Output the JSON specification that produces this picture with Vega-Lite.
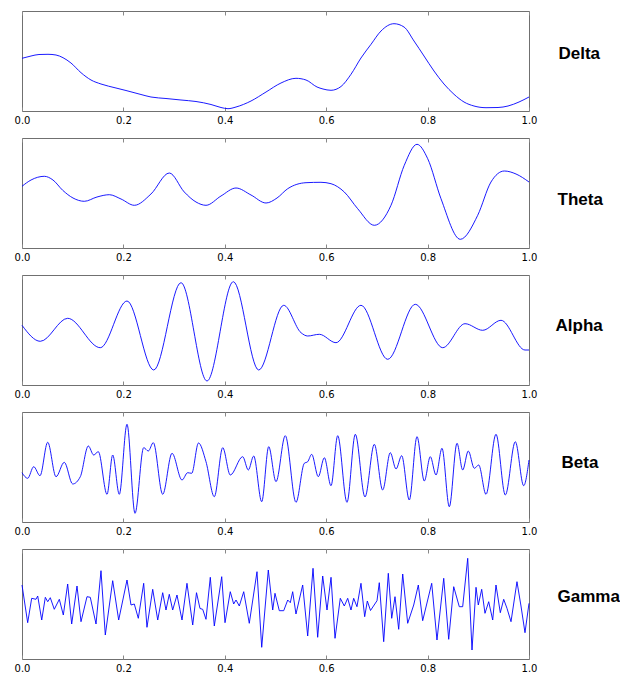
{
  "$schema": "https://vega.github.io/schema/vega-lite/v6.json",
  "padding": {"left": 13, "top": 10, "right": 0, "bottom": 0},
  "background": "white",
  "config": {
    "view": {"stroke": "#707070", "strokeWidth": 1},
    "axis": {"grid": false, "domain": false},
    "concat": {"spacing": 11}
  },
  "datasets": {
    "delta": [
      {"t":0,"v":52.7},{"t":0.0178,"v":55},{"t":0.0335,"v":56.5},{"t":0.0513,"v":56.7},{"t":0.0671,"v":56},{"t":0.0809,"v":53.3},{"t":0.0966,"v":48},{"t":0.1164,"v":38.3},{"t":0.1361,"v":31},{"t":0.1558,"v":27},{"t":0.1854,"v":23},{"t":0.2051,"v":20.5},{"t":0.2347,"v":16.5},{"t":0.2544,"v":14},{"t":0.284,"v":12.5},{"t":0.3136,"v":11},{"t":0.3432,"v":9.5},{"t":0.3728,"v":6.5},{"t":0.3925,"v":3.5},{"t":0.4063,"v":2.3},{"t":0.4221,"v":4},{"t":0.4517,"v":10},{"t":0.4813,"v":19},{"t":0.5108,"v":28},{"t":0.5404,"v":32.7},{"t":0.5602,"v":31},{"t":0.5819,"v":24},{"t":0.5937,"v":22},{"t":0.6095,"v":20.7},{"t":0.6292,"v":24.5},{"t":0.6489,"v":36.7},{"t":0.6686,"v":53},{"t":0.6884,"v":66.7},{"t":0.7081,"v":80},{"t":0.7337,"v":87.3},{"t":0.7535,"v":84},{"t":0.7732,"v":70},{"t":0.7929,"v":55},{"t":0.8126,"v":40},{"t":0.8323,"v":27},{"t":0.8521,"v":16.7},{"t":0.8718,"v":9},{"t":0.8915,"v":5},{"t":0.9152,"v":3.3},{"t":0.9389,"v":3.5},{"t":0.9586,"v":5},{"t":0.9803,"v":9},{"t":1,"v":14}
    ],
    "theta": [
      {"t":0,"v":61.7},{"t":0.0178,"v":68},{"t":0.044,"v":71.7},{"t":0.0611,"v":68},{"t":0.0803,"v":57.7},{"t":0.1006,"v":50},{"t":0.1229,"v":46.7},{"t":0.1479,"v":51},{"t":0.1722,"v":53.3},{"t":0.1953,"v":49},{"t":0.2215,"v":42.7},{"t":0.2544,"v":54},{"t":0.2905,"v":75},{"t":0.3201,"v":56},{"t":0.3432,"v":46},{"t":0.3629,"v":42.7},{"t":0.3925,"v":52},{"t":0.4221,"v":60},{"t":0.4517,"v":53},{"t":0.4813,"v":45},{"t":0.503,"v":50},{"t":0.5241,"v":59.3},{"t":0.5602,"v":65.3},{"t":0.5897,"v":65.7},{"t":0.6095,"v":64.3},{"t":0.6357,"v":56},{"t":0.6621,"v":39.3},{"t":0.6949,"v":22.7},{"t":0.7278,"v":42.7},{"t":0.754,"v":82.7},{"t":0.7791,"v":103.7},{"t":0.8002,"v":89.3},{"t":0.8264,"v":49.3},{"t":0.8645,"v":8.7},{"t":0.8988,"v":32.7},{"t":0.925,"v":66},{"t":0.9513,"v":77},{"t":0.9744,"v":74},{"t":1,"v":66}
    ],
    "alpha": [
      {"t":0,"v":59.7},{"t":0.0361,"v":43.7},{"t":0.0901,"v":66.7},{"t":0.1544,"v":37.3},{"t":0.2071,"v":84},{"t":0.2598,"v":15},{"t":0.3136,"v":102.3},{"t":0.3649,"v":4},{"t":0.4168,"v":103.3},{"t":0.4669,"v":15},{"t":0.5162,"v":79.7},{"t":0.5503,"v":52.3},{"t":0.5635,"v":49},{"t":0.5864,"v":50.7},{"t":0.6193,"v":42.3},{"t":0.6686,"v":79.7},{"t":0.7213,"v":25.7},{"t":0.7757,"v":80.7},{"t":0.8298,"v":37.3},{"t":0.8738,"v":61.3},{"t":0.9087,"v":54.7},{"t":0.9448,"v":64.7},{"t":0.9921,"v":35},{"t":1,"v":35}
    ],
    "beta": [
      {"t":0,"v":49.3},{"t":0.0112,"v":43.7},{"t":0.0231,"v":55.3},{"t":0.0355,"v":46.3},{"t":0.0507,"v":79.7},{"t":0.0671,"v":45.3},{"t":0.0834,"v":59.7},{"t":0.1,"v":38},{"t":0.115,"v":45.3},{"t":0.1308,"v":76},{"t":0.1414,"v":67},{"t":0.1505,"v":70.3},{"t":0.1677,"v":27.7},{"t":0.1789,"v":67},{"t":0.1919,"v":27.7},{"t":0.2071,"v":97.7},{"t":0.2229,"v":8.7},{"t":0.24,"v":74.3},{"t":0.2491,"v":71},{"t":0.259,"v":79.3},{"t":0.2775,"v":27.7},{"t":0.2959,"v":68.7},{"t":0.3156,"v":42},{"t":0.3268,"v":49.3},{"t":0.3347,"v":48.7},{"t":0.3481,"v":79},{"t":0.3629,"v":60.3},{"t":0.3793,"v":25.3},{"t":0.3959,"v":74.3},{"t":0.4108,"v":47},{"t":0.4353,"v":65.3},{"t":0.4464,"v":52},{"t":0.457,"v":66},{"t":0.4728,"v":20.3},{"t":0.4866,"v":75.3},{"t":0.501,"v":40.3},{"t":0.5193,"v":86.3},{"t":0.5404,"v":19.7},{"t":0.5568,"v":58.7},{"t":0.5635,"v":60.3},{"t":0.5714,"v":67.7},{"t":0.5844,"v":45.3},{"t":0.5963,"v":64.3},{"t":0.6095,"v":36.3},{"t":0.6227,"v":86.3},{"t":0.641,"v":19.7},{"t":0.6574,"v":87.7},{"t":0.6765,"v":25},{"t":0.6949,"v":77.7},{"t":0.7114,"v":32},{"t":0.7264,"v":69.3},{"t":0.7377,"v":53},{"t":0.7489,"v":66.3},{"t":0.7639,"v":22},{"t":0.7791,"v":85.3},{"t":0.7935,"v":41},{"t":0.8053,"v":65.3},{"t":0.8166,"v":47},{"t":0.8284,"v":73.7},{"t":0.8428,"v":15.3},{"t":0.858,"v":78.7},{"t":0.8692,"v":52},{"t":0.8803,"v":71},{"t":0.8921,"v":53.7},{"t":0.9008,"v":57},{"t":0.9152,"v":27.7},{"t":0.9349,"v":87.7},{"t":0.9533,"v":27},{"t":0.973,"v":80.3},{"t":0.9895,"v":36.3},{"t":1,"v":62}
    ],
    "gamma": [
      {"t":0,"v":74},{"t":0.0112,"v":36.3},{"t":0.0191,"v":60.7},{"t":0.0276,"v":59.7},{"t":0.031,"v":63},{"t":0.0389,"v":39},{"t":0.046,"v":61.7},{"t":0.0507,"v":57.3},{"t":0.0558,"v":61.3},{"t":0.0637,"v":49.7},{"t":0.0736,"v":59.7},{"t":0.0815,"v":44},{"t":0.0901,"v":75},{"t":0.098,"v":35},{"t":0.1085,"v":73},{"t":0.1164,"v":37.3},{"t":0.1282,"v":62.3},{"t":0.1347,"v":61.7},{"t":0.146,"v":35},{"t":0.1558,"v":88.3},{"t":0.1643,"v":24},{"t":0.1789,"v":78.3},{"t":0.1907,"v":39},{"t":0.2071,"v":79},{"t":0.215,"v":54},{"t":0.2215,"v":55},{"t":0.2294,"v":40.7},{"t":0.24,"v":75.7},{"t":0.2465,"v":31.7},{"t":0.2578,"v":69.7},{"t":0.2677,"v":39},{"t":0.2775,"v":66.3},{"t":0.284,"v":49},{"t":0.2905,"v":64.7},{"t":0.2972,"v":49},{"t":0.3057,"v":64},{"t":0.3156,"v":39},{"t":0.3254,"v":75.7},{"t":0.3367,"v":34},{"t":0.3442,"v":66.3},{"t":0.3511,"v":50.5},{"t":0.3564,"v":49.7},{"t":0.3629,"v":39.7},{"t":0.3714,"v":81.7},{"t":0.3793,"v":33},{"t":0.3939,"v":82.3},{"t":0.4004,"v":36.3},{"t":0.4108,"v":67.3},{"t":0.4175,"v":55},{"t":0.4221,"v":59},{"t":0.4286,"v":53},{"t":0.4373,"v":67.3},{"t":0.4483,"v":35.7},{"t":0.4635,"v":87.3},{"t":0.4728,"v":11.7},{"t":0.4858,"v":89},{"t":0.4945,"v":49},{"t":0.499,"v":65.7},{"t":0.5075,"v":48.3},{"t":0.5162,"v":48.3},{"t":0.5241,"v":59},{"t":0.5292,"v":56.3},{"t":0.5339,"v":67.3},{"t":0.5404,"v":45},{"t":0.5536,"v":74},{"t":0.5635,"v":23},{"t":0.574,"v":90.7},{"t":0.5832,"v":21.7},{"t":0.5931,"v":83},{"t":0.6016,"v":49},{"t":0.6095,"v":81.7},{"t":0.6174,"v":20.7},{"t":0.6278,"v":60.7},{"t":0.6357,"v":53},{"t":0.6424,"v":60.7},{"t":0.6489,"v":49},{"t":0.6542,"v":60.7},{"t":0.6607,"v":52.3},{"t":0.6686,"v":75.7},{"t":0.6759,"v":42.3},{"t":0.6811,"v":58},{"t":0.6874,"v":48.5},{"t":0.7002,"v":58.3},{"t":0.7047,"v":76.3},{"t":0.7134,"v":17.3},{"t":0.7225,"v":85.7},{"t":0.7292,"v":40.7},{"t":0.7357,"v":62.3},{"t":0.743,"v":29.7},{"t":0.7509,"v":85},{"t":0.7607,"v":35.7},{"t":0.7726,"v":54},{"t":0.7817,"v":74},{"t":0.7903,"v":38.3},{"t":0.8002,"v":59},{"t":0.8081,"v":75.7},{"t":0.8185,"v":19},{"t":0.8318,"v":80.7},{"t":0.8416,"v":19.7},{"t":0.8515,"v":72.3},{"t":0.8625,"v":52.3},{"t":0.8692,"v":52.3},{"t":0.8791,"v":100.7},{"t":0.8876,"v":9},{"t":0.8955,"v":71.7},{"t":0.9,"v":54},{"t":0.9067,"v":69.7},{"t":0.9132,"v":45.7},{"t":0.9205,"v":57.3},{"t":0.9284,"v":39},{"t":0.9349,"v":74},{"t":0.9434,"v":46.3},{"t":0.9501,"v":59.7},{"t":0.9566,"v":50.7},{"t":0.9645,"v":37.3},{"t":0.9763,"v":77.3},{"t":0.9842,"v":53},{"t":0.9921,"v":26.3},{"t":1,"v":55.7}
    ]
  },
  "vconcat": [
    {
      "width": 507, "height": 100,
      "data": {"name": "delta"},
      "resolve": {"axis": {"x": "independent"}},
      "layer": [
        {"mark": {"type": "line", "color": "#0000ff", "strokeWidth": 0.9, "interpolate": "monotone"},
         "encoding": {
           "x": {"field": "t", "type": "quantitative", "scale": {"domain": [0, 1]},
                 "axis": {"orient": "bottom", "title": null, "values": [0, 0.2, 0.4, 0.6, 0.8, 1], "format": ".1f", "labelFlush": false, "labelFont": "DejaVu Sans", "labelFontSize": 10, "labelColor": "#000", "tickSize": -4, "tickColor": "#888", "labelPadding": 8}},
           "y": {"field": "v", "type": "quantitative", "scale": {"domain": [0, 100]},
                 "axis": {"orient": "right", "title": "Delta", "labels": false, "ticks": false, "titleAngle": 0, "titleAlign": "left", "titleBaseline": "alphabetic", "titleX": 29, "titleY": 47, "titleFont": "Liberation Sans", "titleFontSize": 17, "titleFontWeight": "bold", "titleColor": "#000"}}
         }},
        {"mark": {"type": "rule", "opacity": 0},
         "encoding": {
           "x": {"field": "t", "type": "quantitative", "axis": {"orient": "top", "title": null, "values": [0, 0.2, 0.4, 0.6, 0.8, 1], "labels": false, "tickSize": -4, "tickColor": "#888"}}
         }}
      ]
    },
    {
      "width": 507, "height": 110,
      "data": {"name": "theta"},
      "resolve": {"axis": {"x": "independent"}},
      "layer": [
        {"mark": {"type": "line", "color": "#0000ff", "strokeWidth": 0.9, "interpolate": "monotone"},
         "encoding": {
           "x": {"field": "t", "type": "quantitative", "scale": {"domain": [0, 1]},
                 "axis": {"orient": "bottom", "title": null, "values": [0, 0.2, 0.4, 0.6, 0.8, 1], "format": ".1f", "labelFlush": false, "labelFont": "DejaVu Sans", "labelFontSize": 10, "labelColor": "#000", "tickSize": -4, "tickColor": "#888", "labelPadding": 8}},
           "y": {"field": "v", "type": "quantitative", "scale": {"domain": [0, 110]},
                 "axis": {"orient": "right", "title": "Theta", "labels": false, "ticks": false, "titleAngle": 0, "titleAlign": "left", "titleBaseline": "alphabetic", "titleX": 28, "titleY": 66, "titleFont": "Liberation Sans", "titleFontSize": 17, "titleFontWeight": "bold", "titleColor": "#000"}}
         }},
        {"mark": {"type": "rule", "opacity": 0},
         "encoding": {
           "x": {"field": "t", "type": "quantitative", "axis": {"orient": "top", "title": null, "values": [0, 0.2, 0.4, 0.6, 0.8, 1], "labels": false, "tickSize": -4, "tickColor": "#888"}}
         }}
      ]
    },
    {
      "width": 507, "height": 110,
      "data": {"name": "alpha"},
      "resolve": {"axis": {"x": "independent"}},
      "layer": [
        {"mark": {"type": "line", "color": "#0000ff", "strokeWidth": 0.9, "interpolate": "monotone"},
         "encoding": {
           "x": {"field": "t", "type": "quantitative", "scale": {"domain": [0, 1]},
                 "axis": {"orient": "bottom", "title": null, "values": [0, 0.2, 0.4, 0.6, 0.8, 1], "format": ".1f", "labelFlush": false, "labelFont": "DejaVu Sans", "labelFontSize": 10, "labelColor": "#000", "tickSize": -4, "tickColor": "#888", "labelPadding": 8}},
           "y": {"field": "v", "type": "quantitative", "scale": {"domain": [0, 110]},
                 "axis": {"orient": "right", "title": "Alpha", "labels": false, "ticks": false, "titleAngle": 0, "titleAlign": "left", "titleBaseline": "alphabetic", "titleX": 26, "titleY": 55, "titleFont": "Liberation Sans", "titleFontSize": 17, "titleFontWeight": "bold", "titleColor": "#000"}}
         }},
        {"mark": {"type": "rule", "opacity": 0},
         "encoding": {
           "x": {"field": "t", "type": "quantitative", "axis": {"orient": "top", "title": null, "values": [0, 0.2, 0.4, 0.6, 0.8, 1], "labels": false, "tickSize": -4, "tickColor": "#888"}}
         }}
      ]
    },
    {
      "width": 507, "height": 110,
      "data": {"name": "beta"},
      "resolve": {"axis": {"x": "independent"}},
      "layer": [
        {"mark": {"type": "line", "color": "#0000ff", "strokeWidth": 0.9, "interpolate": "monotone"},
         "encoding": {
           "x": {"field": "t", "type": "quantitative", "scale": {"domain": [0, 1]},
                 "axis": {"orient": "bottom", "title": null, "values": [0, 0.2, 0.4, 0.6, 0.8, 1], "format": ".1f", "labelFlush": false, "labelFont": "DejaVu Sans", "labelFontSize": 10, "labelColor": "#000", "tickSize": -4, "tickColor": "#888", "labelPadding": 8}},
           "y": {"field": "v", "type": "quantitative", "scale": {"domain": [0, 110]},
                 "axis": {"orient": "right", "title": "Beta", "labels": false, "ticks": false, "titleAngle": 0, "titleAlign": "left", "titleBaseline": "alphabetic", "titleX": 32, "titleY": 55, "titleFont": "Liberation Sans", "titleFontSize": 17, "titleFontWeight": "bold", "titleColor": "#000"}}
         }},
        {"mark": {"type": "rule", "opacity": 0},
         "encoding": {
           "x": {"field": "t", "type": "quantitative", "axis": {"orient": "top", "title": null, "values": [0, 0.2, 0.4, 0.6, 0.8, 1], "labels": false, "tickSize": -4, "tickColor": "#888"}}
         }}
      ]
    },
    {
      "width": 507, "height": 110,
      "data": {"name": "gamma"},
      "resolve": {"axis": {"x": "independent"}},
      "layer": [
        {"mark": {"type": "line", "color": "#0000ff", "strokeWidth": 0.9, "interpolate": "linear"},
         "encoding": {
           "x": {"field": "t", "type": "quantitative", "scale": {"domain": [0, 1]},
                 "axis": {"orient": "bottom", "title": null, "values": [0, 0.2, 0.4, 0.6, 0.8, 1], "format": ".1f", "labelFlush": false, "labelFont": "DejaVu Sans", "labelFontSize": 10, "labelColor": "#000", "tickSize": -4, "tickColor": "#888", "labelPadding": 8}},
           "y": {"field": "v", "type": "quantitative", "scale": {"domain": [0, 110]},
                 "axis": {"orient": "right", "title": "Gamma", "labels": false, "ticks": false, "titleAngle": 0, "titleAlign": "left", "titleBaseline": "alphabetic", "titleX": 28, "titleY": 52, "titleFont": "Liberation Sans", "titleFontSize": 17, "titleFontWeight": "bold", "titleColor": "#000"}}
         }},
        {"mark": {"type": "rule", "opacity": 0},
         "encoding": {
           "x": {"field": "t", "type": "quantitative", "axis": {"orient": "top", "title": null, "values": [0, 0.2, 0.4, 0.6, 0.8, 1], "labels": false, "tickSize": -4, "tickColor": "#888"}}
         }}
      ]
    }
  ]
}
